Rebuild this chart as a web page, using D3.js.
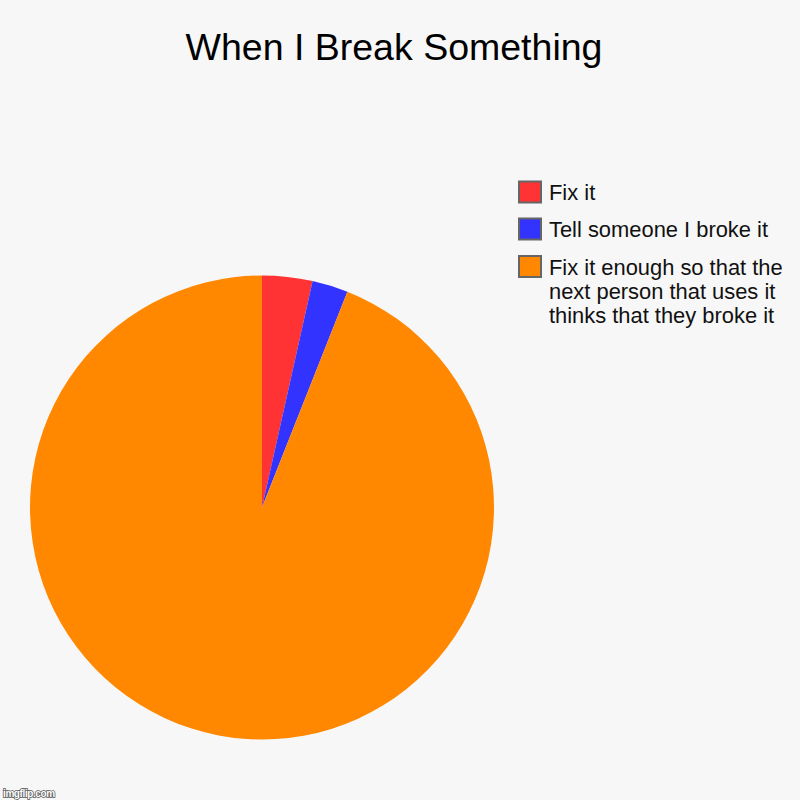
<!DOCTYPE html>
<html>
<head>
<meta charset="utf-8">
<script src="https://d3js.org/d3.v7.min.js"></script>
<style>
  body { margin: 0; background: #f7f7f7; }
  svg { display: block; font-family: "Liberation Sans", Arial, sans-serif; }
</style>
</head>
<body>
<div class="chart"></div>
<script>
// chart data
var labels = ["Fix it", "Tell someone I broke it", "Fix it enough so that the next person that uses it thinks that they broke it"];
var legendLines = [["Fix it"], ["Tell someone I broke it"], ["Fix it enough so that the", "next person that uses it", "thinks that they broke it"]];
var values = [3.5, 2.5, 94];
var colors = ["#ff3333", "#3333ff", "#ff8800"];

var svgWidth = 800;
var svgHeight = 800;

var svg = d3.select(".chart")
    .append("svg")
    .attr("width", svgWidth)
    .attr("height", svgHeight);

svg.append("rect")
    .attr("width", svgWidth)
    .attr("height", svgHeight)
    .attr("fill", "#f7f7f7");

// title
svg.append("text")
    .attr("x", 394)
    .attr("y", 60)
    .attr("text-anchor", "middle")
    .style("font-size", "37.5px")
    .style("fill", "#000")
    .text("When I Break Something");

// pie
var radius = 232;
var pieGroup = svg.append("g")
    .attr("transform", "translate(262, 507.5)");

var pie = d3.pie().sort(null).value(d => d);
var arc = d3.arc().innerRadius(0).outerRadius(radius);

pieGroup.selectAll("path")
    .data(pie(values))
    .enter()
    .append("path")
    .attr("d", arc)
    .attr("fill", (d, i) => colors[i]);

// legend
var rowY = [192, 229, 266.5];
var legend = svg.append("g");

var rows = legend.selectAll("g")
    .data(labels)
    .enter()
    .append("g")
    .attr("transform", (d, i) => `translate(0, ${rowY[i]})`);

rows.append("rect")
    .attr("x", 519)
    .attr("y", -10.5)
    .attr("width", 22)
    .attr("height", 21)
    .attr("fill", (d, i) => colors[i])
    .attr("stroke", "#666")
    .attr("stroke-width", 2);

rows.append("text")
    .attr("x", 549)
    .attr("y", 8)
    .style("font-size", "21.9px")
    .style("fill", "#111")
    .each(function(d, i) {
        var t = d3.select(this);
        legendLines[i].forEach(function(line, j) {
            t.append("tspan")
                .attr("x", 549)
                .attr("dy", j === 0 ? 0 : 24)
                .text(line);
        });
    });

// watermark
svg.append("text")
    .attr("x", 3)
    .attr("y", 797)
    .style("font-size", "10px")
    .style("font-weight", "bold")
    .style("letter-spacing", "-0.4px")
    .style("fill", "#fff")
    .style("stroke", "#555")
    .style("stroke-width", 1.5)
    .style("paint-order", "stroke")
    .text("imgflip.com");
</script>
</body>
</html>
